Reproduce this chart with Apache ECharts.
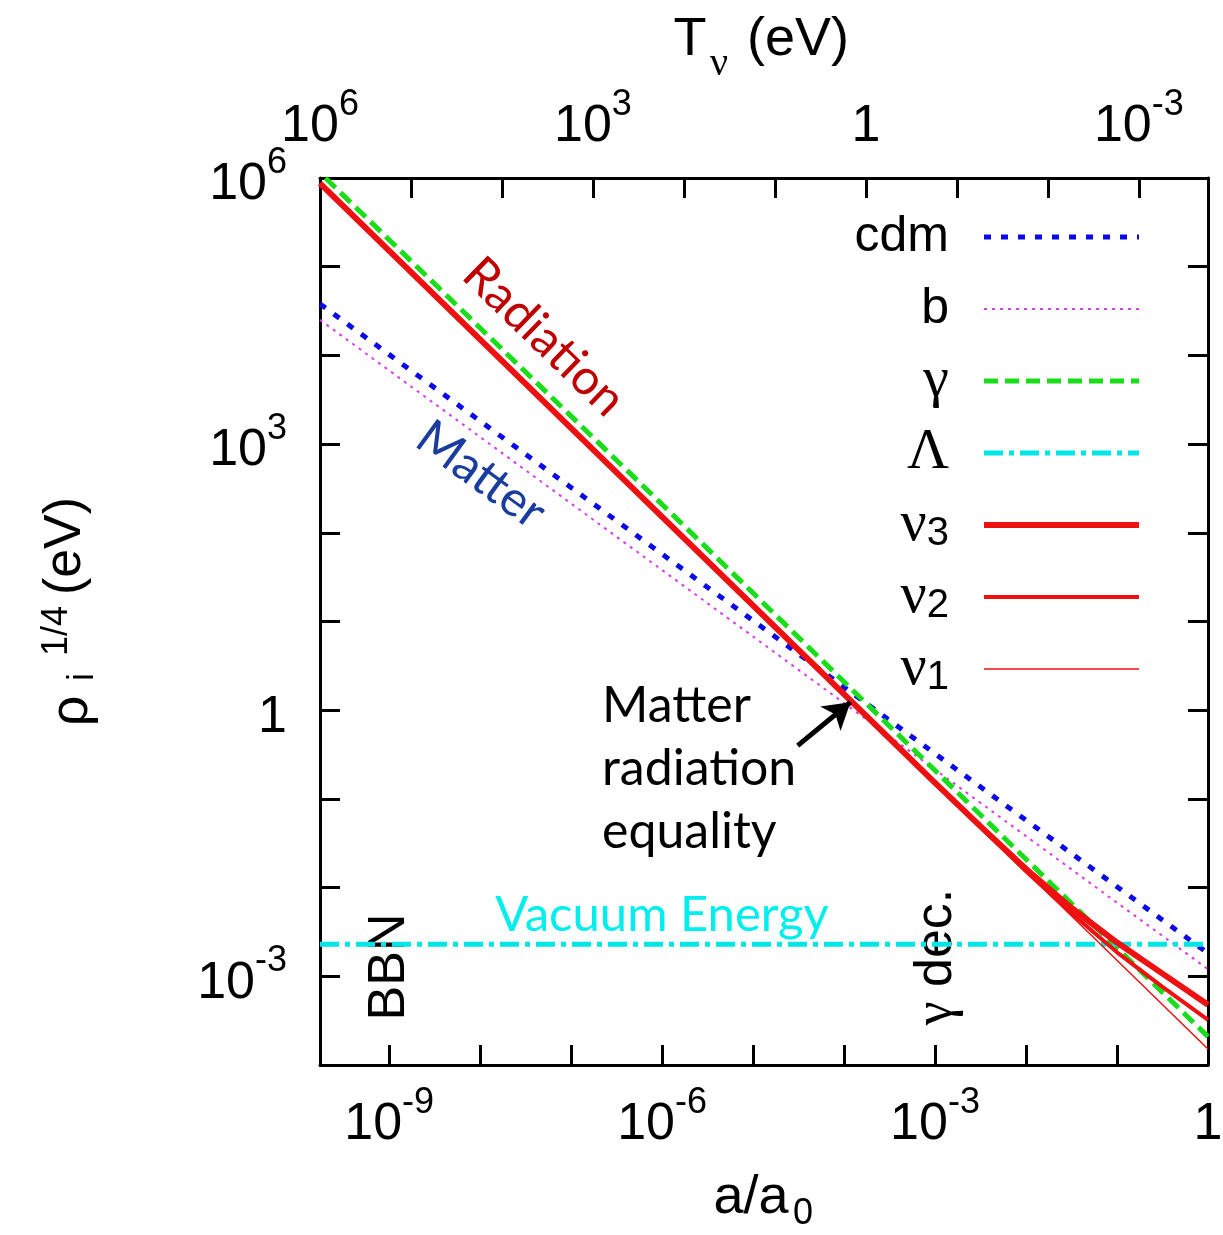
<!DOCTYPE html>
<html>
<head>
<meta charset="utf-8">
<script src="https://cdn.jsdelivr.net/npm/echarts@6/dist/echarts.min.js"></script>
<style>
html, body { margin: 0; padding: 0; background: #fff; }
#chart { width: 1223px; height: 1235px; }
</style>
</head>
<body>
<div id="chart"></div>
<script>
// all values are log10 of the quantity
var aRange = [-9.76, 0];        // a/a0
var tRange = [-3.76, 6];        // T_nu (eV), top axis runs right to left
var rhoRange = [-4, 6];         // rho_i^(1/4) (eV)

var xTicks = [-9, -8, -7, -6, -5, -4, -3, -2, -1, 0];
var xLabels = [-9, -6, -3, 0];
var tTicks = [-3, -2, -1, 0, 1, 2, 3, 4, 5, 6];
var tLabels = [-3, 0, 3, 6];
var yLabels = [-3, 0, 3, 6];

var names = ['cdm', 'b', 'γ', 'Λ', 'ν3', 'ν2', 'ν1'];

var cdmPts = [[-9.76, 4.58], [-6, 1.76], [-3, -0.49], [0, -2.74]];
var bPts = [[-9.76, 4.40], [-6, 1.58], [-3, -0.67], [0, -2.92]];
var gammaPts = [[-9.70, 6.00], [-6, 2.32], [-3, -0.68], [0, -3.68]];
var lambdaPts = [[-9.76, -2.64], [0, -2.64]];
var nu3Pts = [[-9.76, 5.94], [-6, 2.18], [-3, -0.82], [-2.5, -1.31], [-2, -1.79], [-1.5, -2.23],
              [-1, -2.62], [-0.5, -2.97], [0, -3.32]];
var nu2Pts = [[-9.76, 5.94], [-6, 2.18], [-3, -0.82], [-2, -1.815], [-1.5, -2.29], [-1, -2.73],
              [-0.5, -3.12], [0, -3.49]];
var nu1Pts = [[-9.76, 5.94], [-6, 2.18], [-3, -0.82], [0, -3.82]];

var arrowPts = [[-4.51, -0.40], [-3.93, 0.09]];   // matter-radiation equality pointer

var SANS = "'Liberation Sans', Arial, sans-serif";
var SERIF = "'Liberation Serif', 'DejaVu Serif', serif";
var CAL = "Lato, 'Open Sans', sans-serif";

function powLabel(v) {
    var k = Math.round(v);
    if (k === 0) return '{b|1}';
    return '{b|10}{e|' + k + '}';
}
var powRich = {
    b: { fontFamily: SANS, fontSize: 52, color: '#000', lineHeight: 66, verticalAlign: 'bottom' },
    e: { fontFamily: SANS, fontSize: 36, color: '#000', verticalAlign: 'top' }
};

var frameLine = { show: true, onZero: false, lineStyle: { color: '#000', width: 3 } };
function tickStyle(vals) {
    var t = { show: true, inside: true, length: 20, lineStyle: { color: '#000', width: 3 } };
    if (vals) t.customValues = vals;
    return t;
}

// q is a blank spacer in the serif size, so every row gets the same height
var legendText = {
    'cdm': '{t|cdm}{q| }',
    'b': '{t|b}{q| }',
    'γ': '{g|γ}{q| }',
    'Λ': '{g|Λ}{q| }',
    'ν3': '{g|ν}{s|3}{q| }',
    'ν2': '{g|ν}{s|2}{q| }',
    'ν1': '{g|ν}{s|1}{q| }'
};

function lineSeries(name, pts, color, width, type) {
    return {
        name: name, type: 'line', data: pts, symbol: 'none', clip: true,
        itemStyle: { color: color },
        lineStyle: { color: color, width: width, type: type }
    };
}

var chart = echarts.init(document.getElementById('chart'));
var option = {
    animation: false,
    backgroundColor: '#fff',
    grid: { left: 320, top: 178, width: 888, height: 887, containLabel: false, outerBoundsMode: 'none' },
    xAxis: [
        {
            type: 'value', position: 'bottom', min: aRange[0], max: aRange[1],
            axisLine: frameLine, axisTick: tickStyle(xTicks), splitLine: { show: false },
            axisLabel: { customValues: xLabels, formatter: powLabel, rich: powRich, margin: 20 }
        },
        {
            type: 'value', position: 'top', inverse: true, min: tRange[0], max: tRange[1],
            axisLine: frameLine, axisTick: tickStyle(tTicks), splitLine: { show: false },
            axisLabel: { customValues: tLabels, formatter: powLabel, rich: powRich, margin: 25 }
        }
    ],
    yAxis: [
        {
            type: 'value', position: 'left', min: rhoRange[0], max: rhoRange[1], interval: 1,
            axisLine: frameLine, axisTick: tickStyle(), splitLine: { show: false },
            axisLabel: { customValues: yLabels, formatter: powLabel, rich: powRich, margin: 33 }
        },
        {
            type: 'value', position: 'right', min: rhoRange[0], max: rhoRange[1], interval: 1,
            axisLine: frameLine, axisTick: tickStyle(), splitLine: { show: false },
            axisLabel: { show: false }
        }
    ],
    legend: {
        data: names, orient: 'vertical', align: 'right', right: 81, top: 208, padding: 0,
        itemWidth: 155, itemHeight: 2, itemGap: 14,
        itemStyle: { opacity: 0 },
        lineStyle: { width: 'inherit' },
        formatter: function (n) { return legendText[n]; },
        textStyle: {
            rich: {
                t: { fontFamily: SANS, fontSize: 50, color: '#000' },
                g: { fontFamily: SERIF, fontSize: 58, color: '#000' },
                s: { fontFamily: SANS, fontSize: 40, color: '#000', verticalAlign: 'bottom' },
                q: { fontFamily: SERIF, fontSize: 58, width: 30 }
            }
        }
    },
    series: [
        lineSeries('cdm', cdmPts, '#0a0ae8', 5, [7, 10]),
        lineSeries('b', bPts, '#d63ee6', 2, [3, 5]),
        lineSeries('γ', gammaPts, '#18dd18', 5, [14, 7]),
        lineSeries('Λ', lambdaPts, '#00e6e6', 5, [19, 6, 5, 6]),
        lineSeries('ν3', nu3Pts, '#ee1111', 6, 'solid'),
        lineSeries('ν2', nu2Pts, '#ee1111', 4, 'solid'),
        lineSeries('ν1', nu1Pts, '#ee1111', 1.5, 'solid'),
        {
            name: 'arrow', type: 'line', data: [], symbol: 'none',
            markLine: {
                silent: true, animation: false,
                symbol: ['none', 'arrow'], symbolSize: [24, 26],
                lineStyle: { color: '#000', width: 5, type: 'solid' },
                label: { show: false },
                data: [[{ coord: arrowPts[0] }, { coord: arrowPts[1] }]]
            }
        }
    ],
    graphic: [
        // axis titles
        { type: 'text', x: 751, y: 1198, style: { text: 'a/a', font: '54px ' + SANS, fill: '#000', align: 'center', verticalAlign: 'middle' } },
        { type: 'text', x: 803, y: 1214, style: { text: '0', font: '36px ' + SANS, fill: '#000', align: 'center', verticalAlign: 'middle' } },
        { type: 'text', x: 690, y: 40, style: { text: 'T', font: '54px ' + SANS, fill: '#000', align: 'center', verticalAlign: 'middle' } },
        { type: 'text', x: 719, y: 64, style: { text: 'ν', font: '40px ' + SERIF, fill: '#000', align: 'center', verticalAlign: 'middle' } },
        { type: 'text', x: 798, y: 40, style: { text: '(eV)', font: '54px ' + SANS, fill: '#000', align: 'center', verticalAlign: 'middle' } },
        { type: 'text', x: 72, y: 711, rotation: Math.PI / 2, style: { text: 'ρ', font: '54px ' + SANS, fill: '#000', align: 'center', verticalAlign: 'middle' } },
        { type: 'text', x: 83, y: 677, rotation: Math.PI / 2, style: { text: 'i', font: '36px ' + SANS, fill: '#000', align: 'center', verticalAlign: 'middle' } },
        { type: 'text', x: 57, y: 631, rotation: Math.PI / 2, style: { text: '1/4', font: '36px ' + SANS, fill: '#000', align: 'center', verticalAlign: 'middle' } },
        { type: 'text', x: 66, y: 546, rotation: Math.PI / 2, style: { text: '(eV)', font: '52px ' + SANS, fill: '#000', align: 'center', verticalAlign: 'middle' } },
        // annotations
        { type: 'text', x: 544, y: 337, rotation: -0.77, style: { text: 'Radiation', font: '49px ' + CAL, fill: '#c00000', align: 'center', verticalAlign: 'middle' } },
        { type: 'text', x: 481, y: 475, rotation: -0.63, style: { text: 'Matter', font: '49px ' + CAL, fill: '#1a3c9e', align: 'center', verticalAlign: 'middle' } },
        { type: 'text', x: 662, y: 915, style: { text: 'Vacuum Energy', font: '49px ' + CAL, fill: '#00eeee', align: 'center', verticalAlign: 'middle' } },
        { type: 'text', x: 602, y: 706, style: { text: 'Matter', font: '50px ' + CAL, fill: '#000', align: 'left', verticalAlign: 'middle' } },
        { type: 'text', x: 602, y: 769, style: { text: 'radiation', font: '50px ' + CAL, fill: '#000', align: 'left', verticalAlign: 'middle' } },
        { type: 'text', x: 602, y: 832, style: { text: 'equality', font: '50px ' + CAL, fill: '#000', align: 'left', verticalAlign: 'middle' } },
        { type: 'text', x: 390, y: 967, rotation: Math.PI / 2, style: { text: 'BBN', font: '52px ' + SANS, fill: '#000', align: 'center', verticalAlign: 'middle' } },
        {
            type: 'text', x: 937, y: 957, rotation: Math.PI / 2,
            style: {
                text: '{g|γ}{s| dec.}', align: 'center', verticalAlign: 'middle',
                rich: {
                    g: { fontFamily: SERIF, fontSize: 54, fill: '#000' },
                    s: { fontFamily: SANS, fontSize: 52, fill: '#000' }
                }
            }
        }
    ]
};
chart.setOption(option);
</script>
</body>
</html>
